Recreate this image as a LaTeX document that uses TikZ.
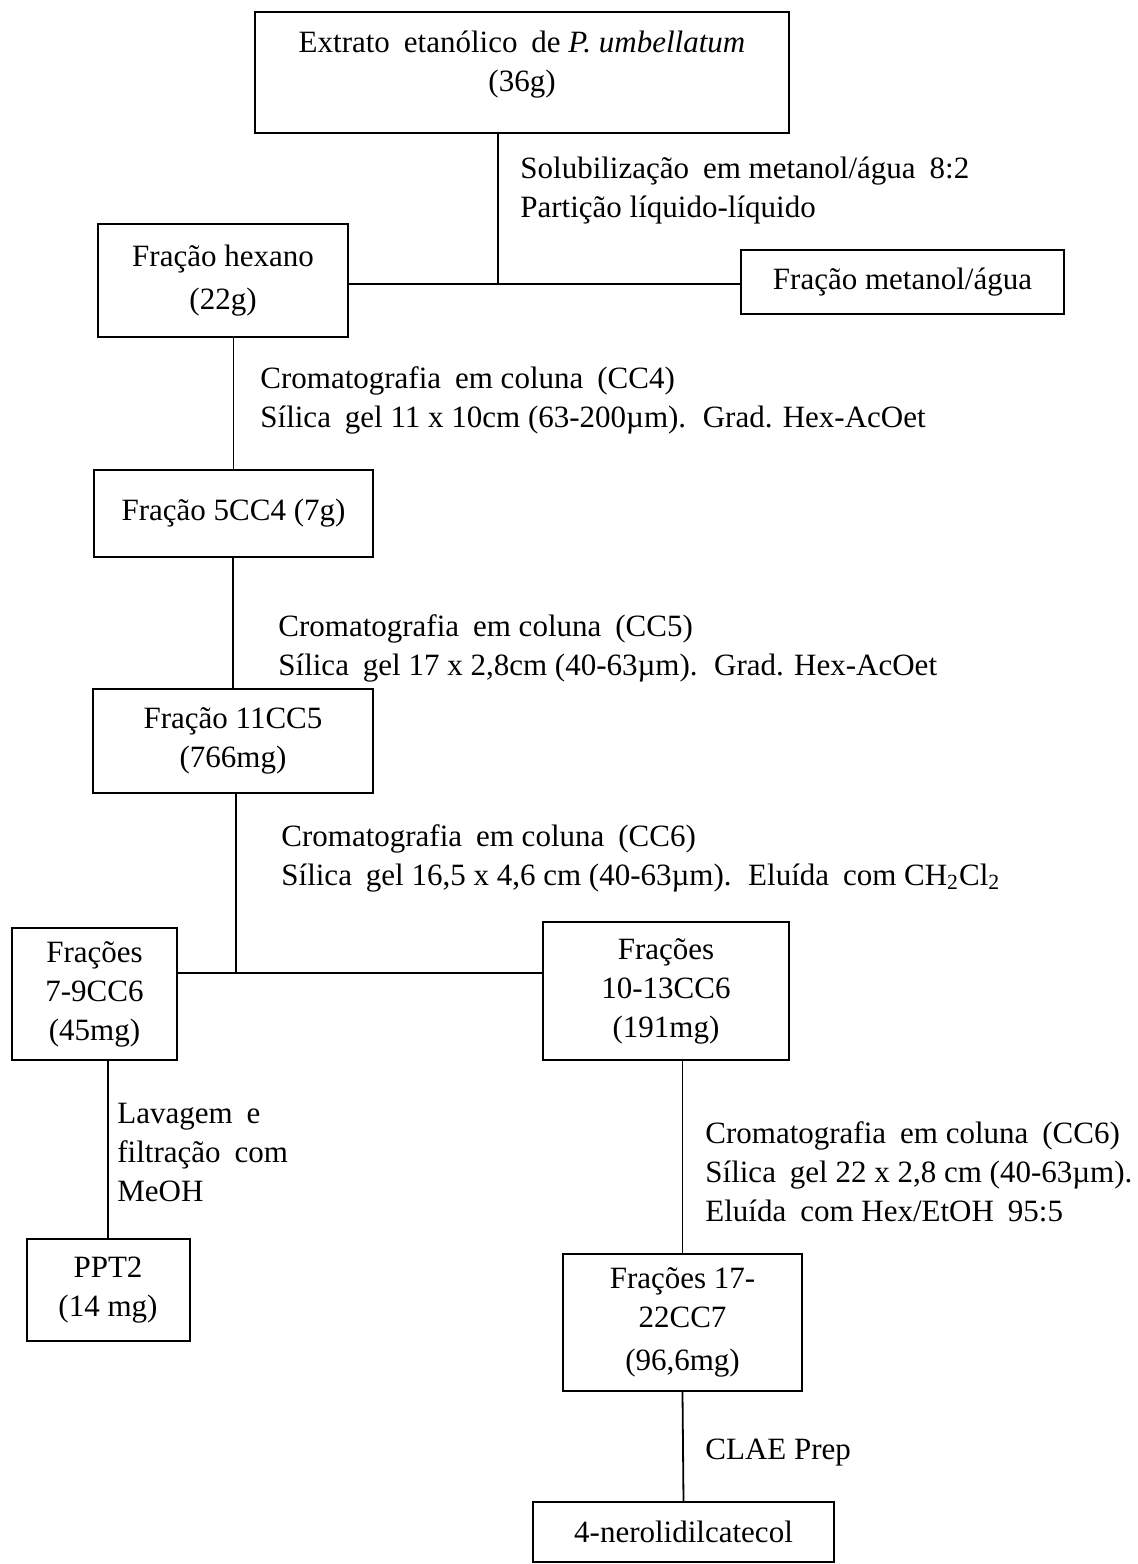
\documentclass[tikz,border=0pt]{standalone}
\usepackage{fontspec}
\setmainfont{Liberation Serif}
\usetikzlibrary{positioning}
\newcommand{\wsp}{\hspace{0.2em} } % the wider gaps of the scan
\tikzset{x=0.5pt, y=-0.5pt, % one unit is one pixel of the scan
every node/.style={font=\fontsize{15.5}{19.5}\selectfont},
box/.style={ % boxes for the fractions
draw,
line width=1pt,
align=center,
inner sep=0pt},
steplabel/.style={ % text beside the lines
anchor=west,
align=left,
inner sep=0pt},
link/.style={line width=0.9pt}}

\begin{document}
\begin{tikzpicture}
    \useasboundingbox (0,0) rectangle (1137,1564);
    \node[box, minimum width=267pt, minimum height=60.5pt] (ext) at (522,72.5) {Extrato\wsp etanólico\wsp de \textit{P. umbellatum}\\(36g)\\[-8pt]};
    \node[box, minimum width=125pt, minimum height=56.5pt] (hex) at (223,280.5) {Fração hexano\\[2pt](22g)};
    \node[box, minimum width=161.5pt, minimum height=32pt] (meta) at (902.5,282) {Fração metanol/água};
    \node[box, minimum width=139.5pt, minimum height=43.5pt] (c5cc4) at (233.5,513.5) {Fração 5CC4 (7g)};
    \node[box, minimum width=140pt, minimum height=52pt] (c11cc5) at (233,741) {Fração 11CC5\\(766mg)};
    \node[box, minimum width=82.5pt, minimum height=66pt] (f79) at (94.5,994) {Frações\\7-9CC6\\(45mg)};
    \node[box, minimum width=123pt, minimum height=69pt] (f1013) at (666,991) {Frações\\10-13CC6\\(191mg)};
    \node[box, minimum width=81.5pt, minimum height=51pt] (ppt2) at (108,1290) {PPT2\\(14 mg)};
    \node[box, minimum width=119.5pt, minimum height=68.5pt] (f1722) at (682.5,1322.5) {Frações 17-\\22CC7\\[2pt](96,6mg)};
    \node[box, minimum width=150.5pt, minimum height=30pt] (nero) at (683.5,1532) {4-nerolidilcatecol};

    \coordinate (j1) at (498,284);
    \coordinate (j2) at (236,973);

    \draw[link] (ext.south -| j1) -- (j1);
    \draw[link] (hex.east |- j1) -- (meta.west |- j1);
    \draw[link] (c5cc4.north |- hex.south) -- (c5cc4.north);
    \draw[link] (c11cc5.north |- c5cc4.south) -- (c11cc5.north);
    \draw[link] (c11cc5.south -| j2) -- (j2);
    \draw[link] (f79.east |- j2) -- (f1013.west |- j2);
    \draw[link] (ppt2.north |- f79.south) -- (ppt2.north);
    \draw[link] (f1722.north |- f1013.south) -- (f1722.north);
    \draw[link] (f1722.south) -- (nero.north);

    \node[steplabel] (solub) at (520,191) {Solubilização\wsp em metanol/água\wsp 8:2\\Partição líquido-líquido};
    \node[steplabel] (cc4) at (260,400) {Cromatografia\wsp em coluna\wsp (CC4)\\Sílica\wsp gel 11 x 10cm (63-200µm).\wsp Grad. Hex-AcOet};
    \node[steplabel] (cc5) at (278,648) {Cromatografia\wsp em coluna\wsp (CC5)\\Sílica\wsp gel 17 x 2,8cm (40-63µm).\wsp Grad. Hex-AcOet};
    \node[steplabel] (cc6a) at (281,858) {Cromatografia\wsp em coluna\wsp (CC6)\\Sílica\wsp gel 16,5 x 4,6 cm (40-63µm).\wsp Eluída\wsp com CH\textsubscript{2}Cl\textsubscript{2}};
    \node[steplabel] (lav) at (117,1152) {Lavagem\wsp e\\filtração\wsp com\\MeOH};
    \node[steplabel] (cc6b) at (705,1172) {Cromatografia\wsp em coluna\wsp (CC6)\\Sílica\wsp gel 22 x 2,8 cm (40-63µm).\\Eluída\wsp com Hex/EtOH\wsp 95:5};
    \node[steplabel] (clae) at (705,1453) {CLAE Prep};
\end{tikzpicture}
\end{document}
